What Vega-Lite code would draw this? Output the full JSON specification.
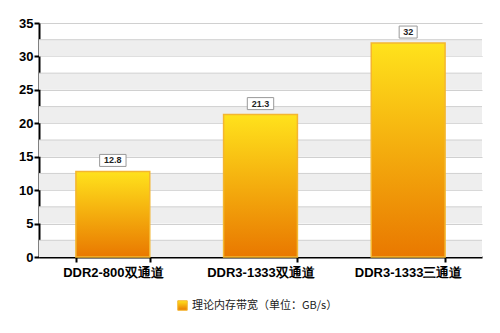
{
  "$schema": "https://vega.github.io/schema/vega-lite/v6.json",
  "autosize": "none",
  "width": 443,
  "height": 234,
  "padding": {"left": 39, "top": 23, "right": 18, "bottom": 76},
  "background": "white",
  "config": {
    "view": {"stroke": null},
    "axis": {"labelFont": "Liberation Sans", "labelFontWeight": "bold", "labelColor": "black", "domainColor": "black", "domainWidth": 2, "tickColor": "black", "tickWidth": 2, "tickSize": 5},
    "axisY": {"title": null, "labelFontSize": 13, "labelPadding": 1, "grid": true, "gridColor": "#D0D0D0", "gridWidth": 1, "values": [0, 5, 10, 15, 20, 25, 30, 35]},
    "legend": {"labelFont": "Noto Sans CJK SC", "labelFontSize": 11, "labelColor": "#222"}
  },
  "datasets": {
    "main": [
      {"cat": "DDR2-800双通道", "v": 12.8, "s": "理论内存带宽（单位：GB/s）"},
      {"cat": "DDR3-1333双通道", "v": 21.3, "s": "理论内存带宽（单位：GB/s）"},
      {"cat": "DDR3-1333三通道", "v": 32, "s": "理论内存带宽（单位：GB/s）"}
    ],
    "bands": [
      {"lo": 0, "hi": 2.5}, {"lo": 5, "hi": 7.5}, {"lo": 10, "hi": 12.5}, {"lo": 15, "hi": 17.5},
      {"lo": 20, "hi": 22.5}, {"lo": 25, "hi": 27.5}, {"lo": 30, "hi": 32.5}
    ]
  },
  "layer": [
    {
      "data": {"name": "bands"},
      "mark": {"type": "rect", "color": "#EEEEEE"},
      "encoding": {
        "y": {"field": "lo", "type": "quantitative", "scale": {"domain": [0, 35], "nice": false}, "axis": {"values": [0, 5, 10, 15, 20, 25, 30, 35]}},
        "y2": {"field": "hi"}
      }
    },
    {
      "data": {"name": "bands"},
      "mark": {"type": "rule", "color": "#D0D0D0", "strokeWidth": 1},
      "encoding": {
        "y": {"field": "hi", "type": "quantitative", "axis": {"values": [0, 5, 10, 15, 20, 25, 30, 35]}}
      }
    },
    {
      "data": {"name": "main"},
      "mark": {"type": "bar", "strokeWidth": 1.5,
        "fill": {"gradient": "linear", "x1": 0, "y1": 0, "x2": 0, "y2": 1, "stops": [{"offset": 0, "color": "#FFE21C"}, {"offset": 1, "color": "#E97800"}]}},
      "encoding": {
        "x": {"field": "cat", "type": "nominal", "sort": null, "scale": {"paddingInner": 0.5, "paddingOuter": 0.25},
          "axis": {"title": null, "labelAngle": 0, "labelFontSize": 13, "tickBand": "extent", "labelPadding": 4}},
        "y": {"field": "v", "type": "quantitative", "axis": {"values": [0, 5, 10, 15, 20, 25, 30, 35]}},
        "stroke": {"field": "s", "type": "nominal", "title": null,
          "scale": {"range": ["#F4B630"]},
          "legend": {"orient": "none", "legendX": 138, "legendY": 277, "symbolType": "square", "symbolSize": 90, "symbolFillColor": "#F2A000", "symbolStrokeWidth": 1}}
      }
    },
    {
      "data": {"name": "main"},
      "mark": {"type": "point", "size": 576, "filled": true, "fill": "white", "stroke": "#999999", "strokeWidth": 1, "opacity": 1, "yOffset": -11},
      "encoding": {
        "x": {"field": "cat", "type": "nominal", "sort": null},
        "y": {"field": "v", "type": "quantitative", "axis": {"values": [0, 5, 10, 15, 20, 25, 30, 35]}},
        "shape": {"condition": {"test": "datum.v == 32", "value": "M-0.75,-0.5H0.75V0.5H-0.75Z"}, "value": "M-1.1,-0.5H1.1V0.5H-1.1Z"}
      }
    },
    {
      "data": {"name": "main"},
      "mark": {"type": "text", "font": "Liberation Sans", "fontWeight": "bold", "fontSize": 9, "color": "#222", "dy": -11, "baseline": "middle"},
      "encoding": {
        "x": {"field": "cat", "type": "nominal", "sort": null},
        "y": {"field": "v", "type": "quantitative", "axis": {"values": [0, 5, 10, 15, 20, 25, 30, 35]}},
        "text": {"field": "v", "type": "quantitative"}
      }
    }
  ]
}
